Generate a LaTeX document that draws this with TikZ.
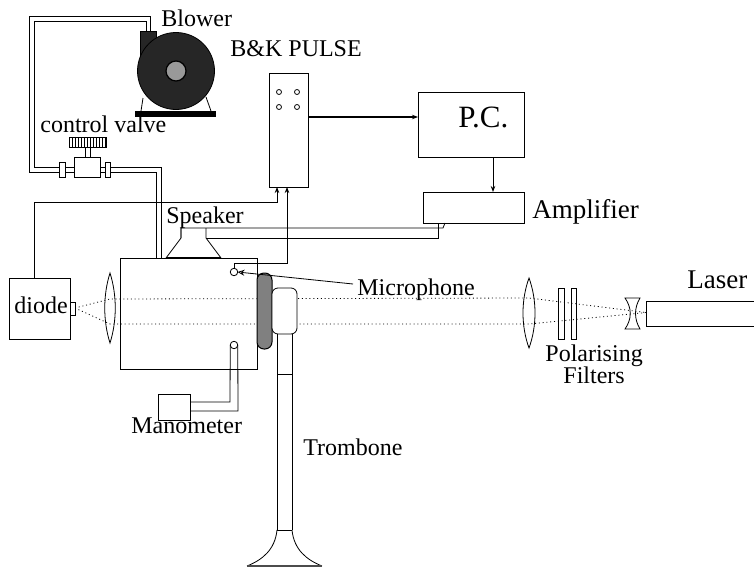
\documentclass[tikz,border=0pt]{standalone}
\usepackage{fontspec}
\setmainfont{Liberation Serif}
\usetikzlibrary{arrows.meta, positioning, calc}

\begin{document}
\begin{tikzpicture}[x=1pt, y=-1pt, line width=0.8pt,
  box/.style={draw, inner sep=0pt, outer sep=0pt, fill=white},
  lbl/.style={anchor=base west, inner sep=0pt, font=\fontsize{24}{26}\selectfont},
  biglbl/.style={anchor=base west, inner sep=0pt, font=\fontsize{27}{29}\selectfont},
  arr/.style={-{Stealth[length=6pt, width=4.5pt]}},
  beam/.style={line width=0.8pt, dash pattern=on 1pt off 2.8pt},
  pipe/.style={line width=0.8pt},
  hole/.style={draw, circle, fill=white, inner sep=0pt, outer sep=0pt, minimum size=7.5pt}
]
\useasboundingbox (0,0) rectangle (754,570);
% ----- beam -----
\coordinate (diodetip) at (75,308);
\coordinate (lensAtop) at (110,299);
\coordinate (lensAbot) at (110,324);
\coordinate (lensBtop) at (529,298);
\coordinate (lensBbot) at (529,324);
\coordinate (lasertip) at (646,312.5);
\draw[beam] (diodetip) -- (lensAtop) -- (lensBtop) -- (lasertip);
\draw[beam] (diodetip) -- (lensAbot) -- (lensBbot) -- (lasertip);
% ----- cell -----
\node[box, fill=none, minimum width=137pt, minimum height=111pt] (cell) at (188.5,313.5) {};
\node[draw, fill=black!50, line width=1pt, rounded corners=7pt, inner sep=0pt, outer sep=0pt,
      minimum width=15pt, minimum height=76pt] (plate) at (264.5,311) {};
\node[hole] (mic) at (234,272) {};
\node[hole] (port) at (234,345) {};
% ----- lenses -----
\draw (110,273) .. controls (103,295) and (103,321) .. (110,343)
      .. controls (117,321) and (117,295) .. (110,273) -- cycle;
\draw (529,278) .. controls (521,300) and (521,326) .. (529,348)
      .. controls (537,326) and (537,300) .. (529,278) -- cycle;
\draw (625,298) -- (640,298) .. controls (634,308) and (634,319) .. (640,329)
      -- (625,329) .. controls (632,319) and (632,308) .. (625,298) -- cycle;
% ----- filters and laser -----
\node[box, fill=none, minimum width=5.5pt, minimum height=51pt] (filtA) at (561.5,313.5) {};
\node[box, fill=none, minimum width=5.5pt, minimum height=51pt] (filtB) at (574,313.5) {};
\draw (754,301) -- (646,301) -- (646,326) -- (754,326);
% ----- diode -----
\node[box, minimum width=61pt, minimum height=61pt] (diode) at (39.5,308.5) {};
\node[box, minimum width=5pt, minimum height=13pt] (diodeend) at (72.5,308.5) {};
% ----- trombone -----
\node[box, rounded corners=6pt, minimum width=25pt, minimum height=46pt] (slide) at (284.5,311) {};
\coordinate (tubeL) at (277,334);
\coordinate (tubeR) at (292,334);
\draw (tubeL) -- (277,530) (tubeR) -- (292,530);
\draw (277,374) -- (292,374);
\draw (277,530) -- (292,530);
\draw (277,530) .. controls (275,550) and (262,560) .. (247,566);
\draw (292,530) .. controls (294,550) and (307,560) .. (322,566);
\draw[line width=1.1pt, black!70] (247,566) -- (322,566);
% ----- instruments -----
\node[box, minimum width=39pt, minimum height=114pt] (pulse) at (288.5,130) {};
\foreach \px in {279,297}
  \foreach \py in {92,107}
    \draw (\px,\py) circle (2.5);
\node[box, minimum width=106pt, minimum height=65pt] (pc) at (471,124.5) {};
\node[box, minimum width=101pt, minimum height=31pt] (amp) at (473.5,207.5) {};
\node[box, minimum width=32pt, minimum height=26pt] (mano) at (174,407) {};
\coordinate (pulseout) at (308,117);
\draw[arr, line width=1.3pt] (pulseout) -- (pulseout -| pc.west);
\draw[arr] (493,157) -- (493,192);
% ----- signal wires -----
\coordinate (pulsein) at (277,187);
\coordinate (micin) at (287,187);
\draw[arr] (diode.north -| 34,278) |- (277,202) -- (pulsein);
\draw[arr] (mic.north) -- (234,263) -- (287,263) -- (micin);
\draw (181,238) -- (181,228) -- (443,228) -- (445,223);
\draw (206,238) -- (438,238) -- (438,223);
% ----- speaker -----
\draw (181,228) -- (181,238) -- (166,258);
\draw (206,228) -- (206,238) -- (221,258);
\draw[line width=1.2pt] (166,258) -- (221,258);
% ----- manometer tubes -----
\draw[pipe] (port.west) -- (230,402) -- (190,402);
\draw[pipe] (port.east) -- (238,411) -- (190,411);
% ----- blower and air line -----
\draw[pipe] (150,31) -- (150,16) -- (29,16) -- (29,172) -- (60,172);
\draw[pipe] (146,31) -- (146,21) -- (34,21) -- (34,167) -- (60,167);
\draw[pipe] (105,167) -- (161,167) -- (161,258);
\draw[pipe] (105,172) -- (156,172) -- (156,258);
\draw[fill=black!85] (140,31) rectangle (156,58);
\node[draw, circle, fill=black!85, inner sep=0pt, outer sep=0pt, minimum size=77pt] (blower) at (176,71) {};
\node[draw, circle, fill=black!40, line width=1.2pt, inner sep=0pt, minimum size=20pt] (hub) at (176,71) {};
\draw (143,98) -- (141,111);
\draw (206,97) -- (211,111);
\fill (135,111) rectangle (216,117);
% ----- valve -----
\node[box, minimum width=26pt, minimum height=20pt] (valve) at (87,167) {};
\draw (65,167) -- (valve.west |- 0,167);
\draw (65,172) -- (valve.west |- 0,172);
\draw (100,167) -- (105,167);
\draw (100,172) -- (105,172);
\draw[fill=white] (59,162) rectangle (65,177);
\draw[fill=white] (105,162) rectangle (110,177);
\draw (85,147) -- (85,157) (90,147) -- (90,157);
\draw[fill=white] (69,137) rectangle (106,147);
\foreach \hx in {72,75,...,105}
  \draw[line width=0.6pt] (\hx,137) -- (\hx,147);
% ----- microphone pointer -----
\coordinate (micfrom) at (353,284);
\draw[-{Stealth[length=7pt, width=6pt, open]}] (micfrom) -- (237.5,272);
% ----- labels -----
\node[lbl] (blowerlbl) at (161,26) {Blower};
\node[lbl] (pulselbl) at (230,56) {B\&K PULSE};
\node[lbl] (valvelbl) at (40,132) {control valve};
\node[lbl] (speakerlbl) at (166,223) {Speaker};
\node[lbl] (diodelbl) at (14,313) {diode};
\node[lbl] (manolbl) at (131,433) {Manometer};
\node[lbl] (miclbl) at (357,295) {Microphone};
\node[lbl] (pollbl) at (545,361) {Polarising};
\node[lbl] (fillbl) at (563,383) {Filters};
\node[lbl] (tromlbl) at (303,455) {Trombone};
\node[biglbl] (amplbl) at (532,218) {Amplifier};
\node[biglbl] (laserlbl) at (687,288) {Laser};
\node[anchor=base west, inner sep=0pt, font=\fontsize{31}{33}\selectfont] (pclbl) at (458,127) {P.C.};
\end{tikzpicture}
\end{document}
